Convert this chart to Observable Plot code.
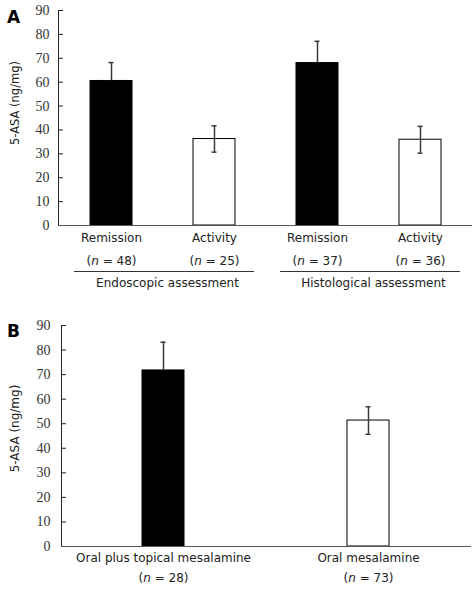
<!DOCTYPE html>
<html><head><meta charset="utf-8">
<script src="https://cdn.jsdelivr.net/npm/d3@7"></script>
<script src="https://cdn.jsdelivr.net/npm/@observablehq/plot@0.6"></script>
<style>body{margin:0;background:#fff} #chart{width:472px} #chart svg{display:block}</style>
</head><body><div id="chart"></div>
<script>
// ---- data ----
const yTicks = [0, 10, 20, 30, 40, 50, 60, 70, 80, 90];
const yLabel = "5-ASA (ng/mg)";

// Panel A
const groupsA = ["Endoscopic assessment", "Endoscopic assessment", "Histological assessment", "Histological assessment"];
const statesA = ["Remission", "Activity", "Remission", "Activity"];
const nA = [48, 25, 37, 36];
const meanA = [60.5, 36.2, 68, 35.9];
const errA = [7.7, 5.5, 9.1, 5.6];

// Panel B
const treatmentsB = ["Oral plus topical mesalamine", "Oral mesalamine"];
const nB = [28, 73];
const meanB = [71.7, 51.3];
const errB = [11.5, 5.6];

// ---- build tables ----
const dataA = statesA.map((s, i) => ({
  key: groupsA[i] + "|" + s, group: groupsA[i], label: s, n: nA[i],
  mean: meanA[i], lo: meanA[i] - errA[i], hi: meanA[i] + errA[i],
  solid: s === "Remission"
}));
const dataB = treatmentsB.map((t, i) => ({
  key: t, label: t, n: nB[i],
  mean: meanB[i], lo: meanB[i] - errB[i], hi: meanB[i] + errB[i],
  solid: t === "Oral plus topical mesalamine"
}));
const groupRows = Array.from(d3.group(dataA, d => d.group), ([g, rows]) => ({
  group: g, first: rows[0].key, last: rows[rows.length - 1].key
}));

const ink = "#222";
const whisker = "#3a3a3a";
const nText = d => `(n = ${d.n})`;
const tickFont = {fontFamily: "Liberation Serif, DejaVu Serif, serif", fontSize: 14, fill: "#333"};

function barMarks(data, plotW) {
  return [
    Plot.barY(data, {x: "key", y: "mean", fill: d => d.solid ? "black" : "white", stroke: "black", strokeWidth: 1}),
    Plot.ruleX(data, {x: "key", y1: "mean", y2: "hi", stroke: whisker, strokeWidth: 1.5}),
    Plot.ruleX(data.filter(d => !d.solid), {x: "key", y1: "lo", y2: "mean", stroke: whisker, strokeWidth: 1.5}),
    Plot.tickY(data, {x: "key", y: "hi", insetLeft: 18.5, insetRight: 18.5, stroke: whisker, strokeWidth: 1.5}),
    Plot.tickY(data.filter(d => !d.solid), {x: "key", y: "lo", insetLeft: 18.5, insetRight: 18.5, stroke: whisker, strokeWidth: 1.5}),
    Plot.tickY(yTicks, {y: d => d, insetRight: plotW - 5, stroke: ink, strokeWidth: 1}),
    Plot.frame({anchor: "left", stroke: ink}),
    Plot.ruleY([0], {stroke: "#555", strokeWidth: 1.2})
  ];
}

const baseStyle = {fontFamily: "DejaVu Sans, Verdana, sans-serif", fontSize: "12px", color: ink, background: "white"};

const plotA = Plot.plot({
  width: 472, height: 298,
  marginLeft: 58, marginRight: 0, marginTop: 10, marginBottom: 73,
  style: baseStyle,
  color: {type: "identity"},
  x: {type: "band", domain: dataA.map(d => d.key), paddingInner: 0.594, paddingOuter: 0.297, axis: null},
  y: {domain: [0, 90]},
  marks: [
    Plot.axisY({ticks: yTicks, tickSize: 0, tickPadding: 9, label: null, ...tickFont}),
    ...barMarks(dataA, 414),
    Plot.text(dataA, {x: "key", y: 0, text: "label", dy: 13, fill: ink}),
    Plot.text(dataA, {x: "key", y: 0, text: nText, dy: 36, fill: ink}),
    Plot.ruleY(groupRows, {y: 0, x1: "first", x2: "last", dy: 46, insetLeft: -16, insetRight: -19, stroke: "#333", strokeWidth: 1}),
    Plot.text(groupRows, {x: "first", y: 0, text: "group", dx: 56, dy: 58, fill: ink}),
    Plot.text([yLabel], {frameAnchor: "left", textAnchor: "middle", lineAnchor: "middle", rotate: -90, dx: -43, dy: -15, fontSize: 11.5, fill: ink}),
    Plot.text(["A"], {frameAnchor: "top-left", textAnchor: "middle", lineAnchor: "middle", dx: -45, dy: 7, fontWeight: "bold", fontSize: 17, fill: "black"})
  ]
});

const plotB = Plot.plot({
  width: 472, height: 292,
  marginLeft: 61, marginRight: 1, marginTop: 27, marginBottom: 44,
  style: baseStyle,
  color: {type: "identity"},
  x: {type: "band", domain: dataB.map(d => d.key), paddingInner: 0.795, paddingOuter: 0.3975, axis: null},
  y: {domain: [0, 90]},
  marks: [
    Plot.axisY({ticks: yTicks, tickSize: 0, tickPadding: 11, label: null, ...tickFont}),
    ...barMarks(dataB, 410),
    Plot.text(dataB, {x: "key", y: 0, text: "label", dy: 12, fill: ink}),
    Plot.text(dataB, {x: "key", y: 0, text: nText, dy: 32, fill: ink}),
    Plot.text([yLabel], {frameAnchor: "left", textAnchor: "middle", lineAnchor: "middle", rotate: -90, dx: -46, dy: -7.5, fontSize: 12, fill: ink}),
    Plot.text(["B"], {frameAnchor: "top-left", textAnchor: "middle", lineAnchor: "middle", dx: -48, dy: 6, fontWeight: "bold", fontSize: 17, fill: "black"})
  ]
});

// italicise the "n" in "(n = xx)"
for (const svg of [plotA, plotB]) {
  d3.select(svg).selectAll("text").each(function () {
    const m = /^\(n = (\d+)\)$/.exec(this.textContent);
    if (!m) return;
    const t = d3.select(this);
    t.text(null);
    t.append("tspan").text("(");
    t.append("tspan").attr("font-style", "italic").text("n");
    t.append("tspan").text(` = ${m[1]})`);
  });
}

document.getElementById("chart").append(plotA, plotB);
</script>
</body></html>
